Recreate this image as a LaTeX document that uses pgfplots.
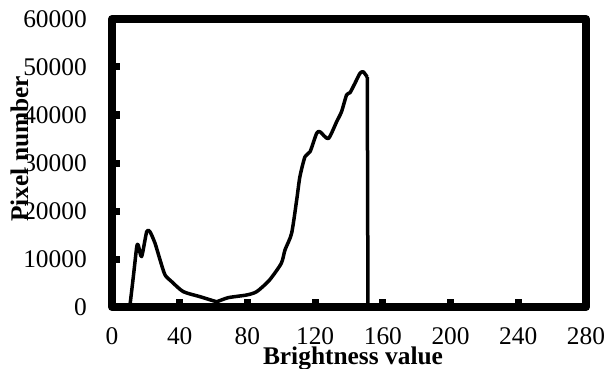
\documentclass[border=0pt]{standalone}
\usepackage{pgfplots}
\pgfplotsset{compat=1.18}
\usepackage{fontspec}
\setmainfont{Liberation Serif}
\begin{document}
\begin{tikzpicture}
\path[use as bounding box] (-112bp,-62bp) rectangle (498bp,307bp);
\begin{axis}[
  scale only axis,
  width=474bp, height=288bp,
  at={(0,0)}, anchor=south west,
  xmin=0, xmax=280, ymin=0, ymax=60000,
  xtick={0,40,...,280},
  ytick={0,10000,...,60000},
  scaled y ticks=false,
  /pgf/number format/1000 sep={},
  /pgf/number format/assume math mode=true,
  tick align=inside,
  major tick length=8bp,
  tick style={line width=7bp, black},
  axis line style={line width=8bp, line join=round},
  axis lines=box,
  xtick pos=bottom, ytick pos=left,
  tick label style={font=\fontsize{25.5}{29}\selectfont},
  xticklabel style={inner sep=0pt, anchor=north, yshift=-20bp},
  yticklabel style={inner sep=0pt, anchor=east, xshift=-25bp},
  xlabel={Brightness value},
  ylabel={Pixel number},
  label style={font=\bfseries\fontsize{25.5}{29}\selectfont},
  xlabel style={at={(axis description cs:0.5,0)}, anchor=base, yshift=-57bp, xshift=4bp},
  ylabel style={at={(axis description cs:-0.177,0.549)}, anchor=base, rotate=0},
]
\addplot[black, line width=3.5bp, line join=round, smooth, tension=0.4] coordinates {
(0,0) (10,0) (10.6,400) (12.6,6300) (14.6,12500) (15.5,12900) (17.5,10500)
(20.5,15700) (22.4,15700) (25.4,13300) (28.4,9800) (31.3,6700) (35.2,5300)
(42.1,3200) (52,2150) (59.8,1300) (61.8,1100) (68.7,1950) (79.5,2500)
(85.5,3200) (93,5600) (100,9100) (102.2,11900) (106.1,15350) (109.1,22300)
(111,27150) (114,31300) (117,32350) (120.9,36200) (122.9,36500) (127.8,35100)
(132.7,38600) (135.6,40700) (138.6,44200) (140.6,44650) (143.5,46600)
(146.5,48700) (148.4,49000) (150.8,47900)
};
\addplot[black, line width=3.5bp, line join=round] coordinates {
(150.8,47900) (151.2,0) (255,0)
};
\end{axis}
\end{tikzpicture}
\end{document}
